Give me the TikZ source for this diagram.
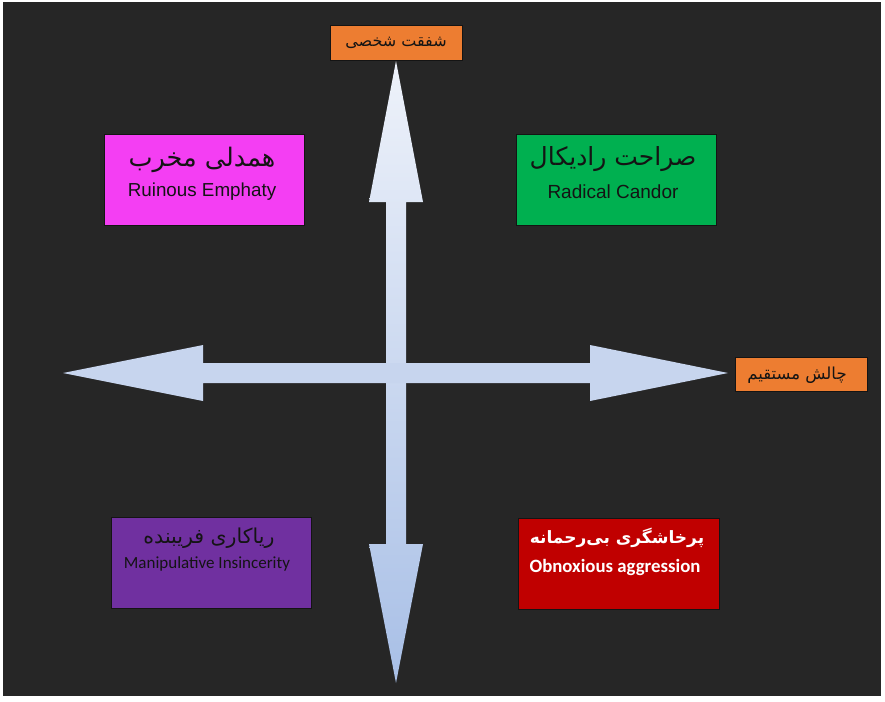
\documentclass[tikz,border=0pt]{standalone}
\usepackage{fontspec}
\usetikzlibrary{positioning}
\TeXXeTstate=1
\newfontfamily\fafont[Script=Arabic]{DejaVu Sans}
\newfontfamily\enfont{Liberation Sans}
\newfontfamily\calfont{Carlito}
\definecolor{bg}{HTML}{262626}
\definecolor{edge}{HTML}{141414}
\definecolor{tagorange}{HTML}{ED7D31}
\definecolor{ruinpink}{HTML}{F43EF3}
\definecolor{candorgreen}{HTML}{00B050}
\definecolor{manippurple}{HTML}{7030A0}
\definecolor{obnoxred}{HTML}{C00000}
\definecolor{armtop}{HTML}{EEF2FA}
\definecolor{armmid}{HTML}{C7D5EE}
\definecolor{armbot}{HTML}{A8BFE6}

\begin{document}
\begin{tikzpicture}[x=1pt, y=-1pt, every node/.style={inner sep=0pt},
  quad/.style={draw=edge, line width=.8pt, minimum width=200pt, minimum height=91pt},
  tag/.style={draw=edge, line width=.8pt, fill=tagorange, minimum width=132pt, minimum height=35pt},
  fa/.style={anchor=base, font=\fafont\fontsize{#1}{#1}\selectfont},
  en/.style={anchor=base, font=\enfont\fontsize{#1}{#1}\selectfont},
  cal/.style={anchor=base, font=\calfont\fontsize{#1}{#1}\selectfont}]
  \useasboundingbox (0,0) rectangle (885,701);
  \fill[white] (0,0) rectangle (885,701);
  \fill[bg] (3,2) rectangle (881,696);

  \coordinate (up) at (396,61);
  \coordinate (down) at (396,683);
  \coordinate (lt) at (63,373);
  \coordinate (rt) at (728,373);

  \shade[top color=armtop, bottom color=armbot]
    (up) -- (423,202) -- (406,202) -- (406,544) -- (423,544) -- (down)
    -- (369,544) -- (386,544) -- (386,202) -- (369,202) -- cycle;
  \fill[armmid]
    (lt) -- (203,345) -- (203,363) -- (590,363) -- (590,345) -- (rt)
    -- (590,401) -- (590,383) -- (203,383) -- (203,401) -- cycle;

  \node[tag] (care) at (396,42.5) {};
  \node[fa=16, text=edge] (carefa) at (396,47) {\beginR شفقت شخصی\endR};
  \node[tag, minimum height=34pt] (chal) at (801,374) {};
  \node[fa=16.5, text=edge] (chalfa) at (797,379) {\beginR چالش مستقیم\endR};

  \node[quad, fill=ruinpink] (ruin) at (204,179.5) {};
  \node[fa=25.5, text=edge] (ruinfa) at (202,166) {\beginR همدلی مخرب\endR};
  \node[en=18.8, text=edge] (ruinen) at (202,196) {Ruinous Emphaty};

  \node[quad, fill=candorgreen] (candor) at (616,179.5) {};
  \node[fa=25, text=edge] (candorfa) at (613,165) {\beginR صراحت رادیکال\endR};
  \node[en=19, text=edge] (candoren) at (613,198) {Radical Candor};

  \node[quad, fill=manippurple] (manip) at (211,563) {};
  \node[fa=20.5, text=edge] (manipfa) at (209,543) {\beginR ریاکاری فریبنده\endR};
  \node[cal=17, text=edge] (manipen) at (207,568) {Manipulative Insincerity};

  \node[quad, minimum width=201pt, fill=obnoxred] (obnox) at (618.5,563.5) {};
  \node[anchor=base, text=white, font=\fafont\bfseries\fontsize{17}{17}\selectfont] (obnoxfa) at (617,543) {\beginR پرخاشگری بی‌رحمانه\endR};
  \node[anchor=base, text=white, font=\calfont\bfseries\fontsize{18.8}{18.8}\selectfont] (obnoxen) at (615,572) {Obnoxious aggression};
\end{tikzpicture}
\end{document}
